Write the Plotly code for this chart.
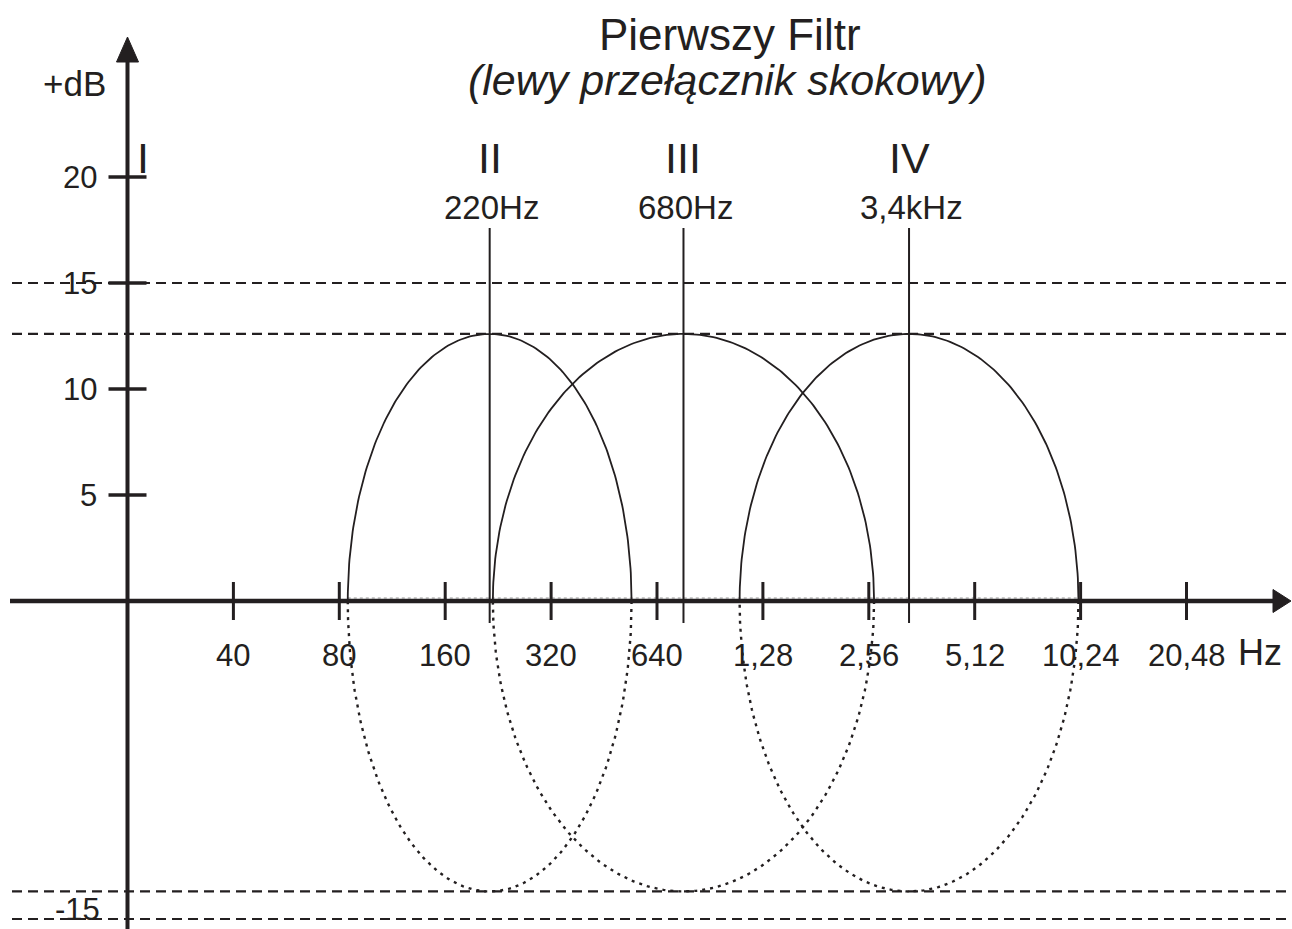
import numpy as np
import plotly.graph_objects as go

# ---- data ----
x_tick_pos = [1, 2, 3, 4, 5, 6, 7, 8, 9, 10]  # octaves above 20 Hz
x_tick_labels = ["40", "80", "160", "320", "640", "1,28", "2,56", "5,12", "10,24", "20,48"]
y_tick_vals = [20, 15, 10, 5]
y_tick_labels = ["20", "15", "10", "5"]
filter_names = ["II", "III", "IV"]
filter_freqs = ["220Hz", "680Hz", "3,4kHz"]
filter_centers = [3.42, 5.25, 7.38]      # octave position
filter_halfwidths = [1.34, 1.80, 1.60]   # octaves
peak_db = 12.6
trough_db = -13.7
ref_lines = [15, peak_db, trough_db, -15]

# ---- layout geometry ----
W, H = 1292, 929
xr = [-127.5 / 105.9, (W - 127.5) / 105.9]
yr = [(601 - H) / 21.2, 601 / 21.2]
ux = W / (xr[1] - xr[0])   # px per x unit
uy = H / (yr[1] - yr[0])   # px per y unit
INK = "#231f20"
FONT = "Arial, Liberation Sans, sans-serif"

fig = go.Figure()

def seg(x, y, width, dash=None, color=INK):
    fig.add_trace(go.Scatter(x=x, y=y, mode="lines", hoverinfo="skip",
                             line=dict(color=color, width=width, dash=dash), showlegend=False))

# reference dashed lines
for yv in ref_lines:
    seg([xr[0] + 12 / ux, xr[1]], [yv, yv], 2.2, "10px,6px")

# grey dotted baseline under the curves
left_edge = filter_centers[0] - filter_halfwidths[0]
right_edge = filter_centers[-1] + filter_halfwidths[-1]
seg([left_edge, right_edge], [3 / uy, 3 / uy], 1.2, "3px,3px", "#9a9a9a")

# ellipses
t = np.linspace(0, np.pi, 181)
for c, a in zip(filter_centers, filter_halfwidths):
    seg(c + a * np.cos(t), peak_db * np.sin(t), 1.8)
    seg(c + a * np.cos(t), trough_db * np.sin(t), 2.4, "3px,5px")

# centre lines
for c in filter_centers:
    seg([c, c], [-22 / uy, (601 - 228) / uy], 2)

# axes
seg([0, 0], [yr[0], yr[1] - 50 / uy], 4)
seg([xr[0] + 10 / ux, xr[1] - 10 / ux], [0, 0], 4.5)

# axis arrowheads
ytip = yr[1] - 37 / uy
fig.add_trace(go.Scatter(x=[0, -11 / ux, 11 / ux, 0], y=[ytip, ytip - 25 / uy, ytip - 25 / uy, ytip],
                         mode="lines", fill="toself", fillcolor=INK, line=dict(color=INK, width=1),
                         hoverinfo="skip", showlegend=False))
xtip = xr[1] - 1 / ux
fig.add_trace(go.Scatter(x=[xtip, xtip - 18 / ux, xtip - 18 / ux, xtip], y=[0, 11.5 / uy, -11.5 / uy, 0],
                         mode="lines", fill="toself", fillcolor=INK, line=dict(color=INK, width=1),
                         hoverinfo="skip", showlegend=False))

# ticks
for xv in x_tick_pos:
    seg([xv, xv], [-19 / uy, 19 / uy], 3)
for yv in y_tick_vals:
    seg([-19 / ux, 19 / ux], [yv, yv], 3.5)

ann = []
# x tick labels
for xv, lab in zip(x_tick_pos, x_tick_labels):
    ann.append(dict(x=xv, y=0, yshift=-54, text=lab, showarrow=False, xanchor="center", yanchor="middle",
                    font=dict(size=31, color=INK, family=FONT)))
ann.append(dict(x=xr[1], y=0, xshift=-8, yshift=-51, text="Hz", showarrow=False, xanchor="right",
                yanchor="middle", font=dict(size=36, color=INK, family=FONT)))
# y tick labels
for yv, lab in zip(y_tick_vals, y_tick_labels):
    ann.append(dict(x=0, y=yv, xshift=-29, text=lab, showarrow=False, xanchor="right", yanchor="middle",
                    font=dict(size=31, color=INK, family=FONT)))
ann.append(dict(x=0, y=-15, xshift=-26, yshift=10, text="-15", showarrow=False, xanchor="right",
                yanchor="middle", font=dict(size=31, color=INK, family=FONT)))
ann.append(dict(x=0, y=yr[1], xshift=-20, yshift=-83, text="+dB", showarrow=False, xanchor="right",
                yanchor="middle", font=dict(size=35, color=INK, family=FONT)))
# filter labels
ann.append(dict(x=0, y=yr[1], xshift=15, yshift=-158, text="I", showarrow=False, xanchor="center",
                yanchor="middle", font=dict(size=43, color=INK, family=FONT)))
for c, n, f in zip(filter_centers, filter_names, filter_freqs):
    ann.append(dict(x=c, y=yr[1], yshift=-158, text=n, showarrow=False, xanchor="center", yanchor="middle",
                    font=dict(size=43, color=INK, family=FONT)))
    ann.append(dict(x=c, y=yr[1], xshift=2, yshift=-207, text=f, showarrow=False, xanchor="center",
                    yanchor="middle", font=dict(size=33, color=INK, family=FONT)))
# title
ann.append(dict(x=730 / W, y=1 - 35 / H, xref="paper", yref="paper", text="Pierwszy Filtr", showarrow=False,
                xanchor="center", yanchor="middle", font=dict(size=44, color=INK, family=FONT)))
ann.append(dict(x=728 / W, y=1 - 80 / H, xref="paper", yref="paper", text="<i>(lewy przełącznik skokowy)</i>",
                showarrow=False, xanchor="center", yanchor="middle", font=dict(size=43, color=INK, family=FONT)))

fig.update_layout(
    width=W, height=H, margin=dict(l=0, r=0, t=0, b=0),
    paper_bgcolor="white", plot_bgcolor="white",
    xaxis=dict(range=xr, visible=False, fixedrange=True),
    yaxis=dict(range=yr, visible=False, fixedrange=True),
    annotations=ann, showlegend=False,
)
fig.write_html("out.html", config={"displayModeBar": False},
               post_script="document.body.style.margin='0px';document.body.style.overflow='hidden';")
